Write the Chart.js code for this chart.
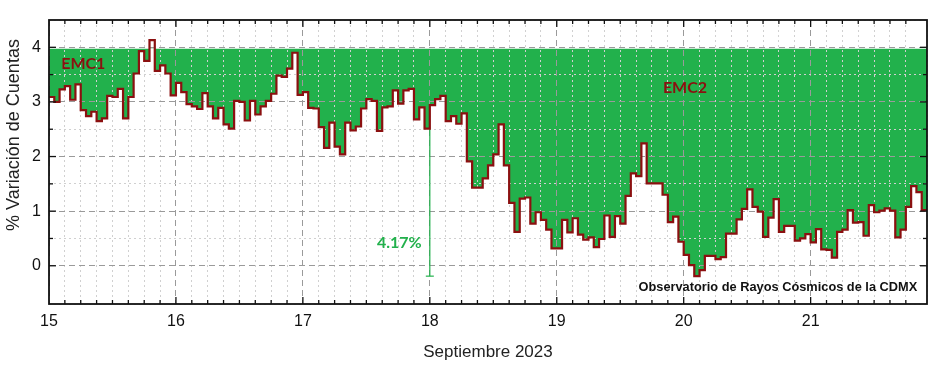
<!DOCTYPE html>
<html lang="es">
<head>
<meta charset="utf-8">
<title>Variación de Cuentas - Septiembre 2023</title>
<script src="https://cdn.jsdelivr.net/npm/chart.js@4.4.1/dist/chart.umd.min.js"></script>
<style>
  html, body { margin: 0; padding: 0; background: #fff; }
  #marco { width: 939px; height: 365px; }
</style>
</head>
<body>
<div id="marco"><canvas id="grafica"></canvas></div>
<script>
// % variación de cuentas, un valor por hora (15 al 21 de septiembre 2023)
const dia15 = [3.09, 3.00, 3.23, 3.29, 3.04, 3.32, 2.85, 2.74, 2.82, 2.65, 2.70, 3.11,
               3.09, 3.24, 2.70, 3.09, 3.52, 3.93, 3.75, 4.13, 3.57, 3.67, 3.52, 3.12];
const dia16 = [3.35, 3.18, 2.96, 2.92, 2.87, 3.16, 2.92, 2.70, 2.89, 2.59, 2.51, 3.02,
               3.00, 2.66, 3.02, 2.77, 2.92, 3.02, 3.15, 3.48, 3.46, 3.61, 3.90, 3.13];
const dia17 = [3.18, 2.89, 2.88, 2.54, 2.16, 2.62, 2.18, 2.04, 2.62, 2.48, 2.55, 2.88,
               3.05, 3.02, 2.47, 2.90, 2.92, 3.21, 2.97, 3.21, 3.24, 2.68, 2.90, 2.51];
const dia18 = [2.94, 3.05, 3.11, 2.65, 2.74, 2.60, 2.79, 1.91, 1.43, 1.43, 1.60, 1.84,
               2.04, 2.59, 1.84, 1.15, 0.62, 1.23, 1.25, 0.77, 0.98, 0.84, 0.66, 0.32];
const dia19 = [0.32, 0.84, 0.61, 0.87, 0.57, 0.48, 0.52, 0.34, 0.49, 0.92, 0.53, 0.91,
               0.77, 1.28, 1.69, 1.64, 2.24, 1.51, 1.51, 1.51, 1.30, 0.80, 0.90, 0.44];
const dia20 = [0.20, 0.01, -0.19, -0.08, 0.18, 0.18, 0.12, 0.16, 0.59, 0.59, 0.85, 1.04,
               1.40, 1.08, 0.99, 0.53, 0.88, 1.22, 0.62, 0.73, 0.73, 0.46, 0.50, 0.58];
const dia21 = [0.43, 0.67, 0.30, 0.29, 0.15, 0.62, 0.66, 1.02, 0.79, 0.80, 0.55, 1.11,
               0.98, 1.01, 1.05, 1.01, 0.52, 0.66, 1.08, 1.46, 1.35, 1.02];

const diaInicio = 15;
const nivelEMC = 3.98;          // techo del área verde
const rangoX = [18, 18];        // barra de 4.17%
const rangoY = [2.51, -0.19];

const verde = '#22b14c';
const rojo = '#8b1010';

const horas = [...dia15, ...dia16, ...dia17, ...dia18, ...dia19, ...dia20, ...dia21];
const diaFin = diaInicio + horas.length / 24;

let puntos = horas.map((v, i) => ({ x: diaInicio + i / 24, y: v }));
// cerrar el último escalón
puntos.push({ x: diaFin, y: horas[horas.length - 1] });

const esEntero = v => v !== undefined && Math.abs(v - Math.round(v)) < 1e-6;

const gridColor = ctx => esEntero(ctx.tick && ctx.tick.value) ? '#9a9a9a' : '#d0d0d0';
const gridDash = ctx => esEntero(ctx.tick && ctx.tick.value) ? [6, 4] : [2, 3];

// marco, marcas hacia adentro y textos
const marcoYTextos = {
  id: 'marcoYTextos',
  afterDraw(chart) {
    const { ctx, chartArea: a, scales: { x, y } } = chart;
    const linea = (x1, y1, x2, y2) => { ctx.beginPath(); ctx.moveTo(x1, y1); ctx.lineTo(x2, y2); ctx.stroke(); };
    ctx.save();
    ctx.strokeStyle = '#111';
    ctx.lineWidth = 1.3;
    x.ticks.forEach(t => {
      if (t.value <= x.min + 1e-6 || t.value >= x.max - 1e-6) return;
      const px = x.getPixelForValue(t.value);
      const len = esEntero(t.value) ? 7 : 4;
      linea(px, a.bottom, px, a.bottom - len);
      linea(px, a.top, px, a.top + len);
    });
    y.ticks.forEach(t => {
      if (t.value <= y.min + 1e-6 || t.value >= y.max - 1e-6) return;
      const py = y.getPixelForValue(t.value);
      const len = esEntero(t.value) ? 7 : 4;
      linea(a.left, py, a.left + len, py);
      linea(a.right, py, a.right - len, py);
    });
    ctx.lineWidth = 1.8;
    ctx.strokeRect(a.left, a.top, a.right - a.left, a.bottom - a.top);

    // textos
    ctx.textBaseline = 'middle';
    ctx.textAlign = 'center';
    ctx.fillStyle = rojo;
    ctx.font = 'bold 16px Lato';
    ctx.fillText('EMC1', x.getPixelForValue(15.27), y.getPixelForValue(3.69));
    ctx.fillText('EMC2', x.getPixelForValue(20.01), y.getPixelForValue(3.26));
    ctx.fillStyle = verde;
    ctx.fillText('4.17%', x.getPixelForValue(17.76), y.getPixelForValue(0.42));
    ctx.fillStyle = '#111';
    ctx.textAlign = 'right';
    ctx.font = 'bold 12.8px "Liberation Sans"';
    ctx.fillText('Observatorio de Rayos Cósmicos de la CDMX', x.getPixelForValue(21.84), y.getPixelForValue(-0.39));

    // título del eje y
    ctx.translate(14, 135);
    ctx.rotate(-Math.PI / 2);
    ctx.textAlign = 'center';
    ctx.font = '18px "Liberation Sans"';
    ctx.fillStyle = '#222';
    ctx.fillText('% Variación de Cuentas', 0, 0);
    ctx.restore();
  }
};

new Chart(document.getElementById('grafica'), {
  type: 'line',
  data: {
    datasets: [
      {
        data: puntos,
        stepped: 'before',
        borderColor: rojo,
        borderWidth: 2.2,
        pointRadius: 0,
        fill: { target: { value: nivelEMC }, above: 'rgba(0,0,0,0)', below: verde }
      },
      {
        data: rangoX.map((v, i) => ({ x: v, y: rangoY[i] })),
        borderColor: verde,
        borderWidth: 1.2,
        pointStyle: 'line',
        pointRadius: [0, 4],
        pointBorderColor: verde,
        pointBorderWidth: 1.2,
        fill: false
      }
    ]
  },
  options: {
    responsive: true,
    maintainAspectRatio: false,
    animation: false,
    layout: { padding: { top: 20, right: 12, left: 0, bottom: 0 } },
    plugins: {
      legend: { display: false },
      tooltip: { enabled: false },
      // relleno debajo de la rejilla, línea encima
      filler: { drawTime: 'beforeDraw' }
    },
    scales: {
      x: {
        type: 'linear',
        min: diaInicio,
        max: diaFin,
        afterFit: s => { s.height = 61; },
        grid: { drawTicks: false, color: gridColor, lineWidth: 1 },
        border: { display: false, dash: gridDash },
        ticks: {
          stepSize: 0.125,
          autoSkip: false,
          maxRotation: 0,
          padding: 8,
          color: '#111',
          font: { family: 'Liberation Sans', size: 16 },
          callback: v => esEntero(v) ? String(Math.round(v)) : ''
        },
        title: {
          display: true,
          text: 'Septiembre 2023',
          color: '#222',
          font: { family: 'Liberation Sans', size: 17 },
          padding: { top: 0, bottom: 2 }
        }
      },
      y: {
        min: -0.7,
        max: 4.5,
        afterFit: s => { s.width = 49; },
        grid: { drawTicks: false, color: gridColor, lineWidth: 1 },
        border: { display: false, dash: gridDash },
        ticks: {
          stepSize: 0.5,
          padding: 8,
          color: '#111',
          font: { family: 'Liberation Sans', size: 16 },
          callback: v => esEntero(v) ? String(Math.round(v)) : ''
        }
      }
    }
  },
  plugins: [marcoYTextos]
});
</script>
</body>
</html>
